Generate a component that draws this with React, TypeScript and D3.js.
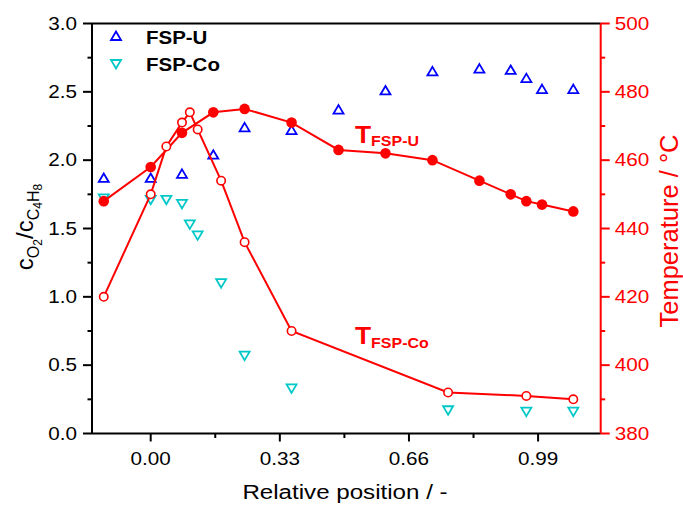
import React from "react";
import * as d3 from "d3";

const xU = [-0.12, 0, 0.08, 0.16, 0.24, 0.36, 0.48, 0.6, 0.72, 0.84, 0.92, 0.96, 1.0, 1.08];
const ratioU = [1.87, 1.87, 1.9, 2.04, 2.24, 2.22, 2.37, 2.51, 2.65, 2.67, 2.66, 2.6, 2.52, 2.52];
const tempU = [448, 458, 468, 474, 475, 471, 463, 462, 460, 454, 450, 448, 447, 445];

const xCo = [-0.12, 0, 0.04, 0.08, 0.1, 0.12, 0.18, 0.24, 0.36, 0.76, 0.96, 1.08];
const ratioCo = [1.72, 1.71, 1.71, 1.68, 1.53, 1.45, 1.1, 0.57, 0.33, 0.17, 0.16, 0.16];
const tempCo = [420, 450, 464, 471, 474, 469, 454, 436, 410, 392, 391, 390];

const xTicks = [0, 0.33, 0.66, 0.99];
const xMinor = [0.165, 0.495, 0.825];
const yTicks = [0, 0.5, 1.0, 1.5, 2.0, 2.5, 3.0];
const yMinor = [0.25, 0.75, 1.25, 1.75, 2.25, 2.75];
const tTicks = [380, 400, 420, 440, 460, 480, 500];
const tMinor = [390, 410, 430, 450, 470, 490];

const W = 683, H = 506;
const L = 92, R = 600.7, T = 23.5, B = 433.5;
const FONT = "'Liberation Sans', Arial, sans-serif";
const RED = "#ff0000";
const BLUE = "#0000ff";
const CYAN = "#00c8c8";
const SX = 1.15;

const x = d3.scaleLinear().domain([-0.15, 1.15]).range([L, R]);
const y = d3.scaleLinear().domain([0, 3]).range([B, T]);
const yT = d3.scaleLinear().domain([380, 500]).range([B, T]);

const triUp = (cx: number, cy: number) => `M${cx},${cy - 4.5}L${cx + 5},${cy + 4}L${cx - 5},${cy + 4}Z`;
const triDown = (cx: number, cy: number) => `M${cx},${cy + 4.5}L${cx + 5},${cy - 4}L${cx - 5},${cy - 4}Z`;

const tr = (px: number, py: number, s = SX) => `translate(${px},${py}) scale(${s},1)`;

export default function App() {
  const lineU = d3.line<number>().x((_, i) => x(xU[i])).y((d) => yT(d))(tempU) as string;
  const lineCo = d3.line<number>().x((_, i) => x(xCo[i])).y((d) => yT(d))(tempCo) as string;
  return (
    <svg width={W} height={H} style={{ position: "absolute", left: 0, top: 0, background: "#fff" }} fontFamily={FONT}>
      {/* frame */}
      <line x1={L} x2={R} y1={T} y2={T} stroke="#000" strokeWidth={2} />
      <line x1={L} x2={R} y1={B} y2={B} stroke="#000" strokeWidth={2} />
      <line x1={L} x2={L} y1={T} y2={B} stroke="#000" strokeWidth={2} />
      <line x1={R} x2={R} y1={T} y2={B} stroke={RED} strokeWidth={2} />
      {/* x ticks */}
      {xTicks.map((t) => (
        <g key={"xt" + t}>
          <line x1={x(t)} x2={x(t)} y1={B} y2={B + 8} stroke="#000" strokeWidth={2} />
          <text transform={tr(x(t), B + 31)} textAnchor="middle" fontSize={18}>{t.toFixed(2)}</text>
        </g>
      ))}
      {xMinor.map((t) => (
        <line key={"xm" + t} x1={x(t)} x2={x(t)} y1={B} y2={B + 4.5} stroke="#000" strokeWidth={2} />
      ))}
      {/* left ticks */}
      {yTicks.map((t) => (
        <g key={"yt" + t}>
          <line x1={L - 9} x2={L} y1={y(t)} y2={y(t)} stroke="#000" strokeWidth={2} />
          <text transform={tr(L - 15, y(t) + 6.3)} textAnchor="end" fontSize={18}>{t.toFixed(1)}</text>
        </g>
      ))}
      {yMinor.map((t) => (
        <line key={"ym" + t} x1={L - 4.5} x2={L} y1={y(t)} y2={y(t)} stroke="#000" strokeWidth={2} />
      ))}
      {/* right ticks */}
      {tTicks.map((t) => (
        <g key={"tt" + t}>
          <line x1={R} x2={R + 9} y1={yT(t)} y2={yT(t)} stroke={RED} strokeWidth={2} />
          <text transform={tr(R + 14, yT(t) + 6.3)} textAnchor="start" fontSize={18} fill={RED}>{t}</text>
        </g>
      ))}
      {tMinor.map((t) => (
        <line key={"tm" + t} x1={R} x2={R + 4.5} y1={yT(t)} y2={yT(t)} stroke={RED} strokeWidth={2} />
      ))}
      {/* axis titles */}
      <text transform={tr(345, 499)} textAnchor="middle" fontSize={21}>Relative position / -</text>
      <text transform="translate(678,231) rotate(-90)" textAnchor="middle" fontSize={25.5} fill={RED}>Temperature / °C</text>
      <text transform="translate(33,227) rotate(-90)" textAnchor="middle" fontSize={24}>
        <tspan>c</tspan>
        <tspan fontSize={16} dy={6}>O</tspan>
        <tspan fontSize={12} dy={3}>2</tspan>
        <tspan fontSize={24} dy={-9}>/c</tspan>
        <tspan fontSize={16} dy={6}>C</tspan>
        <tspan fontSize={12} dy={3}>4</tspan>
        <tspan fontSize={16} dy={-3}>H</tspan>
        <tspan fontSize={12} dy={3}>8</tspan>
      </text>
      {/* scatter */}
      {xU.map((xv, i) => (
        <path key={"u" + i} d={triUp(x(xv), y(ratioU[i]))} fill="none" stroke={BLUE} strokeWidth={1.8} />
      ))}
      {xCo.map((xv, i) => (
        <path key={"c" + i} d={triDown(x(xv), y(ratioCo[i]))} fill="none" stroke={CYAN} strokeWidth={1.8} />
      ))}
      {/* temperature lines */}
      <path d={lineU} fill="none" stroke={RED} strokeWidth={2} />
      <path d={lineCo} fill="none" stroke={RED} strokeWidth={2} />
      {xU.map((xv, i) => (
        <circle key={"tu" + i} cx={x(xv)} cy={yT(tempU[i])} r={5.3} fill={RED} />
      ))}
      {xCo.map((xv, i) => (
        <circle key={"tc" + i} cx={x(xv)} cy={yT(tempCo[i])} r={4.2} fill="#fff" stroke={RED} strokeWidth={1.6} />
      ))}
      {/* legend */}
      <path d={triUp(116, 36)} fill="none" stroke={BLUE} strokeWidth={1.8} />
      <text transform={tr(146, 44, 1.17)} fontSize={17.5} fontWeight="bold">FSP-U</text>
      <path d={triDown(116, 64)} fill="none" stroke={CYAN} strokeWidth={1.8} />
      <text transform={tr(146, 71, 1.17)} fontSize={17.5} fontWeight="bold">FSP-Co</text>
      {/* annotations */}
      <text transform={tr(355, 143, 1.1)} fontSize={24} fontWeight="bold" fill={RED}>
        T<tspan fontSize={14.5} dy={3}>FSP-U</tspan>
      </text>
      <text transform={tr(355, 343.5, 1.1)} fontSize={24} fontWeight="bold" fill={RED}>
        T<tspan fontSize={14.5} dy={4}>FSP-Co</tspan>
      </text>
    </svg>
  );
}
